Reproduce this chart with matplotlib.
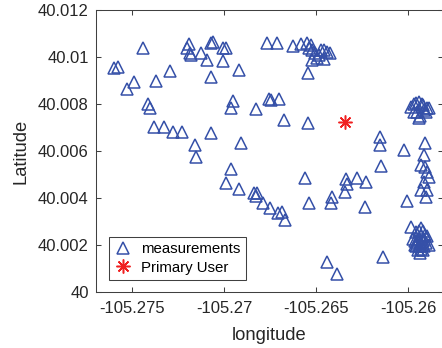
import matplotlib
matplotlib.use("Agg")
import matplotlib.pyplot as plt

# measurement locations (longitude, latitude)
meas_lon = [
    -105.27597, -105.27576, -105.27527, -105.27489, -105.27440, -105.27369,
    -105.27293, -105.27413, -105.27402, -105.27380, -105.27326, -105.27277,
    -105.27228, -105.27157, -105.27152, -105.27190, -105.27201, -105.27185,
    -105.27179, -105.27125, -105.27092, -105.27071, -105.27060, -105.27071,
    -105.27005, -105.26989, -105.27005, -105.26919, -105.26951, -105.26962,
    -105.27071, -105.26908, -105.26826, -105.26767, -105.26712, -105.26756,
    -105.26745, -105.26701, -105.26674, -105.26544,
    # top middle cluster
    -105.26625, -105.26582, -105.26549, -105.26528, -105.26538, -105.26522,
    -105.26506, -105.26495, -105.26522, -105.26473, -105.26457, -105.26441,
    -105.26424, -105.26457, -105.26484, -105.26544,
    # right side
    -105.26153, -105.26153, -105.26023, -105.25909,
    -105.25985, -105.25968, -105.25957, -105.25941, -105.25925, -105.25919,
    -105.25898, -105.25887, -105.25941, -105.25968, -105.25952, -105.25903,
    -105.25914, -105.25936,
    -105.26148, -105.25914, -105.25930, -105.25909, -105.25898, -105.25887,
    -105.25914, -105.25930, -105.25898, -105.25903, -105.26006, -105.25985,
    -105.26137,
    # bottom right cluster
    -105.25957, -105.25941, -105.25930, -105.25919, -105.25909, -105.25898,
    -105.25914, -105.25930, -105.25947, -105.25962, -105.25952, -105.25936,
    -105.25919, -105.25903, -105.25925, -105.25941, -105.25957, -105.25914,
    -105.25930, -105.25947, -105.25919, -105.25936, -105.25962, -105.25975,
    -105.25887,
    # middle bottom
    -105.26962, -105.26989, -105.26919, -105.26837, -105.26821, -105.26826,
    -105.26788, -105.26750, -105.26707, -105.26685, -105.26669, -105.26560,
    -105.26538, -105.26414, -105.26419, -105.26338, -105.26332, -105.26343,
    -105.26278, -105.26229, -105.26234, -105.26441, -105.26386,
]
meas_lat = [
    40.00954, 40.00958, 40.00864, 40.00894, 40.01039, 40.00898,
    40.00941, 40.00800, 40.00783, 40.00702, 40.00702, 40.00681,
    40.00681, 40.00626, 40.00574, 40.01056, 40.01039, 40.01018,
    40.01009, 40.01018, 40.00988, 40.01060, 40.01065, 40.00915,
    40.01039, 40.01039, 40.00984, 40.00945, 40.00813, 40.00783,
    40.00677, 40.00634, 40.00779, 40.01060, 40.01060, 40.00822,
    40.00817, 40.00822, 40.00732, 40.00720,
    40.01048, 40.01056, 40.01060, 40.01052, 40.01039, 40.01031,
    40.01018, 40.00997, 40.00988, 40.01031, 40.01031, 40.01022,
    40.01018, 40.00992, 40.01009, 40.00933,
    40.00660, 40.00626, 40.00604, 40.00634,
    40.00788, 40.00800, 40.00805, 40.00809, 40.00800, 40.00796,
    40.00783, 40.00783, 40.00741, 40.00766, 40.00766, 40.00766,
    40.00775, 40.00749,
    40.00536, 40.00583, 40.00540, 40.00532, 40.00510, 40.00489,
    40.00468, 40.00434, 40.00434, 40.00404, 40.00387, 40.00280,
    40.00152,
    40.00255, 40.00263, 40.00272, 40.00263, 40.00246, 40.00238,
    40.00229, 40.00238, 40.00229, 40.00220, 40.00212, 40.00212,
    40.00220, 40.00212, 40.00203, 40.00195, 40.00195, 40.00195,
    40.00186, 40.00178, 40.00178, 40.00169, 40.00203, 40.00229,
    40.00203,
    40.00523, 40.00464, 40.00438, 40.00421, 40.00421, 40.00410,
    40.00378, 40.00357, 40.00336, 40.00340, 40.00306, 40.00485,
    40.00382, 40.00404, 40.00378, 40.00481, 40.00459, 40.00425,
    40.00485, 40.00468, 40.00361, 40.00127, 40.00080,
]

pu_lon = [-105.26343]
pu_lat = [40.00724]

xticks = [-105.275, -105.27, -105.265, -105.26]
xtick_labels = ["-105.275", "-105.27", "-105.265", "-105.26"]
yticks = [40.0, 40.002, 40.004, 40.006, 40.008, 40.01, 40.012]
ytick_labels = ["40", "40.002", "40.004", "40.006", "40.008", "40.01", "40.012"]

plt.rcParams["font.family"] = ["Liberation Sans", "DejaVu Sans"]

fig = plt.figure(figsize=(4.42, 3.48), dpi=100)
ax = fig.add_axes([0.2165, 0.160, 0.7857, 0.8103])

ax.plot(meas_lon, meas_lat, linestyle="none", marker="^", markersize=8,
        markerfacecolor="none", markeredgecolor="#3550a8", markeredgewidth=1.1,
        label="measurements")
ax.plot(pu_lon, pu_lat, linestyle="none", marker=(8, 2, 0), markersize=10,
        markeredgecolor="#f02020", markeredgewidth=1.1, label="Primary User")

ax.set_xlim(-105.27699, -105.25811)
ax.set_ylim(40.0, 40.012)
ax.set_xticks(xticks)
ax.set_xticklabels(xtick_labels)
ax.set_yticks(yticks)
ax.set_yticklabels(ytick_labels)

axcol = "#404040"
for s in ax.spines.values():
    s.set_color(axcol)
    s.set_linewidth(0.75)
ax.tick_params(direction="in", length=3.6, width=0.75, colors=axcol,
               labelcolor="#262626", labelsize=12, top=True, right=True)
ax.tick_params(axis="x", pad=6.5)
ax.tick_params(axis="y", pad=5)

ax.set_xlabel("longitude", fontsize=13.2, color="#262626", labelpad=8)
ax.set_ylabel("Latitude", fontsize=13.2, color="#262626", labelpad=6)

leg = ax.legend(loc="lower left", bbox_to_anchor=(0.038, 0.044), borderaxespad=0,
                fontsize=10.8, fancybox=False, framealpha=1, edgecolor=axcol,
                handlelength=1.2, handletextpad=0.6, borderpad=0.35,
                labelspacing=0.3)
leg.get_frame().set_linewidth(0.75)

plt.savefig("out.png", dpi=100)
